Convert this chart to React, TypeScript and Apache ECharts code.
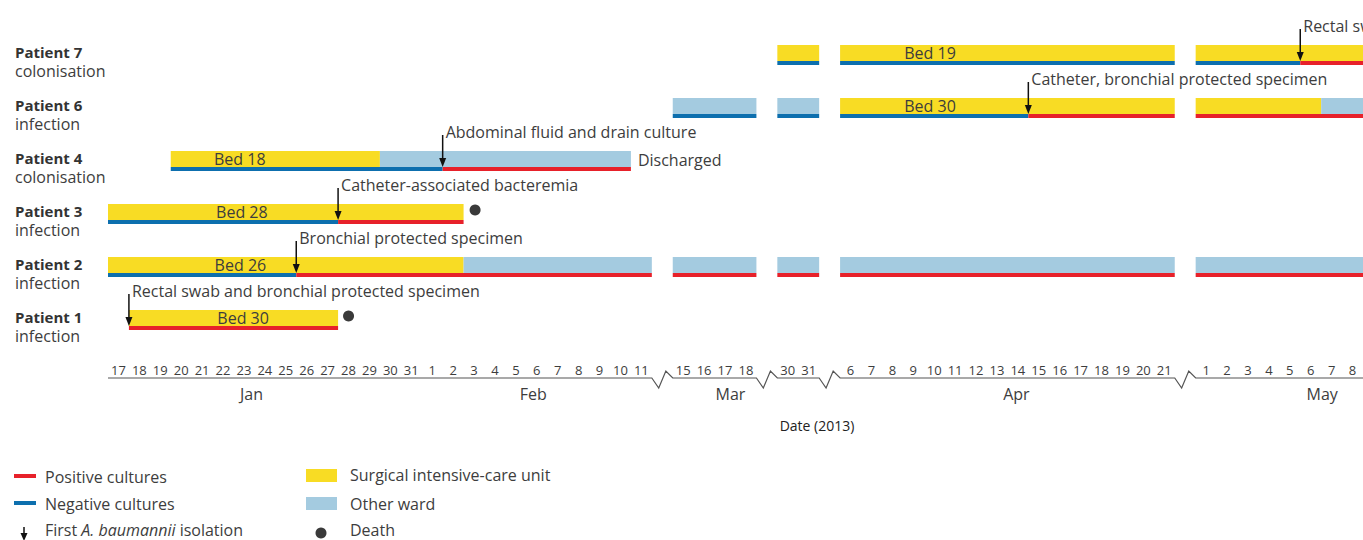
import React, { useEffect, useRef } from "react";
import * as echarts from "echarts";

// ---- data ----
const rowNames = ["Patient 1", "Patient 2", "Patient 3", "Patient 4", "Patient 6", "Patient 7"];
const rowKinds = ["infection", "infection", "infection", "colonisation", "infection", "colonisation"];

// day slots: 0 = 17 Jan ... (gaps are empty slots)
const dayLabels = [
  "17", "18", "19", "20", "21", "22", "23", "24", "25", "26", "27", "28", "29", "30", "31",
  "1", "2", "3", "4", "5", "6", "7", "8", "9", "10", "11",
  "",
  "15", "16", "17", "18",
  "",
  "30", "31",
  "",
  "6", "7", "8", "9", "10", "11", "12", "13", "14", "15", "16", "17", "18", "19", "20", "21",
  "",
  "1", "2", "3", "4", "5", "6", "7", "8",
];

// axis segments [start, end] in slots
const axisSegments: [number, number][] = [[0, 26], [27, 31], [32, 34], [35, 51], [52, 60]];

// months [slot position, label]
const monthPos = [6.86, 20.33, 29.76, 43.43, 58.05];
const monthNames = ["Jan", "Feb", "Mar", "Apr", "May"];

// ward stays: [start, end, row, ward (0 = ICU, 1 = other ward)]
const wardStays: number[][] = [
  [1, 11, 0, 0],
  [0, 17, 1, 0], [17, 26, 1, 1], [27, 31, 1, 1], [32, 34, 1, 1], [35, 51, 1, 1], [52, 60, 1, 1],
  [0, 17, 2, 0],
  [3, 13, 3, 0], [13, 25, 3, 1],
  [27, 31, 4, 1], [32, 34, 4, 1], [35, 51, 4, 0], [52, 58, 4, 0], [58, 60, 4, 1],
  [32, 34, 5, 0], [35, 51, 5, 0], [52, 60, 5, 0],
];

// cultures: [start, end, row, positive (1) / negative (0)]
const cultures: number[][] = [
  [1, 11, 0, 1],
  [0, 9, 1, 0], [9, 26, 1, 1], [27, 31, 1, 1], [32, 34, 1, 1], [35, 51, 1, 1], [52, 60, 1, 1],
  [0, 11, 2, 0], [11, 17, 2, 1],
  [3, 16, 3, 0], [16, 25, 3, 1],
  [27, 31, 4, 0], [32, 34, 4, 0], [35, 44, 4, 0], [44, 51, 4, 1], [52, 60, 4, 1],
  [32, 34, 5, 0], [35, 51, 5, 0], [52, 57, 5, 0], [57, 60, 5, 1],
];

// first isolation: [slot, row]
const isolationPos: number[][] = [[1, 0], [9, 1], [11, 2], [16, 3], [44, 4], [57, 5]];
const isolationText = [
  "Rectal swab and bronchial protected specimen",
  "Bronchial protected specimen",
  "Catheter-associated bacteremia",
  "Abdominal fluid and drain culture",
  "Catheter, bronchial protected specimen",
  "Rectal swab",
];

// deaths: [slot, row]
const deaths: number[][] = [[11.5, 0], [17.55, 2]];

// bed labels: [slot, row]
const bedPos: number[][] = [[6.46, 0], [6.33, 1], [6.4, 2], [6.3, 3], [39.3, 4], [39.3, 5]];
const bedText = ["Bed 30", "Bed 26", "Bed 28", "Bed 18", "Bed 30", "Bed 19"];

// discharged: [slot, row]
const discharged: number[][] = [[25, 3]];

// ---- styles ----
const YELLOW = "#F8DC24";
const LIGHTBLUE = "#A4CBE0";
const BLUE = "#0D6FAE";
const RED = "#E7212A";
const TEXT = "#3d3d3d";
const FONT = "Open Sans";
const FS = 16;

export default function App() {
  const ref = useRef<HTMLDivElement>(null);

  useEffect(() => {
    if (!ref.current) return;
    const chart = echarts.init(ref.current, undefined, { renderer: "svg" });

    const option: any = {
      animation: false,
      textStyle: { fontFamily: FONT, color: TEXT },
      grid: { left: 108, top: 61, width: 1265, height: 265 },
      xAxis: [
        { type: "value", min: 0, max: 60, show: false },
        {
          type: "category",
          data: dayLabels,
          position: "bottom",
          offset: 37,
          boundaryGap: true,
          axisLine: { show: false },
          axisTick: { show: false },
          splitLine: { show: false },
          axisLabel: { interval: 0, margin: 0, fontSize: 13, color: TEXT, fontFamily: FONT },
        },
      ],
      yAxis: {
        type: "value",
        min: 0,
        max: 5,
        interval: 1,
        axisLine: { show: false },
        axisTick: { show: false },
        splitLine: { show: false },
        axisLabel: {
          align: "left",
          margin: 93,
          formatter: (v: number) => `{b|${rowNames[v]}}\n{n|${rowKinds[v]}}`,
          rich: {
            b: { fontWeight: "bold", fontSize: 15, lineHeight: 19, color: "#333", fontFamily: FONT },
            n: { fontSize: FS, lineHeight: 19, color: TEXT, fontFamily: FONT },
          },
        },
      },
      series: [
        {
          type: "custom",
          name: "ward",
          data: wardStays,
          renderItem: (params: any, api: any) => {
            const p0 = api.coord([api.value(0), api.value(2)]);
            const p1 = api.coord([api.value(1), api.value(2)]);
            return {
              type: "rect",
              shape: { x: p0[0], y: p0[1] - 16, width: p1[0] - p0[0], height: 16 },
              style: { fill: api.value(3) === 0 ? YELLOW : LIGHTBLUE },
            };
          },
        },
        {
          type: "custom",
          name: "cultures",
          data: cultures,
          renderItem: (params: any, api: any) => {
            const p0 = api.coord([api.value(0), api.value(2)]);
            const p1 = api.coord([api.value(1), api.value(2)]);
            return {
              type: "rect",
              shape: { x: p0[0], y: p0[1], width: p1[0] - p0[0], height: 4 },
              style: { fill: api.value(3) === 1 ? RED : BLUE },
            };
          },
        },
        {
          type: "custom",
          name: "beds",
          data: bedPos,
          renderItem: (params: any, api: any) => {
            const p = api.coord([api.value(0), api.value(1)]);
            return {
              type: "text",
              style: {
                text: bedText[params.dataIndex],
                x: p[0],
                y: p[1] - 8,
                align: "center",
                verticalAlign: "middle",
                fontSize: FS,
                fontFamily: FONT,
                fill: TEXT,
              },
            };
          },
        },
        {
          type: "custom",
          name: "isolation",
          data: isolationPos,
          renderItem: (params: any, api: any) => {
            const p = api.coord([api.value(0), api.value(1)]);
            const x = p[0];
            const y = p[1];
            return {
              type: "group",
              children: [
                {
                  type: "line",
                  shape: { x1: x, y1: y - 32, x2: x, y2: y - 6 },
                  style: { stroke: "#111", lineWidth: 1.5 },
                },
                {
                  type: "polygon",
                  shape: { points: [[x - 3.5, y - 9], [x + 3.5, y - 9], [x, y]] },
                  style: { fill: "#111" },
                },
                {
                  type: "text",
                  style: {
                    text: isolationText[params.dataIndex],
                    x: x + 3,
                    y: y - 35,
                    align: "left",
                    verticalAlign: "middle",
                    fontSize: FS,
                    fontFamily: FONT,
                    fill: TEXT,
                  },
                },
              ],
            };
          },
        },
        {
          type: "custom",
          name: "deaths",
          data: deaths,
          renderItem: (params: any, api: any) => {
            const p = api.coord([api.value(0), api.value(1)]);
            return {
              type: "circle",
              shape: { cx: p[0], cy: p[1] - 10, r: 5.5 },
              style: { fill: "#3a3a3a" },
            };
          },
        },
        {
          type: "custom",
          name: "discharged",
          data: discharged,
          renderItem: (params: any, api: any) => {
            const p = api.coord([api.value(0), api.value(1)]);
            return {
              type: "text",
              style: {
                text: "Discharged",
                x: p[0] + 7,
                y: p[1] - 7,
                align: "left",
                verticalAlign: "middle",
                fontSize: FS,
                fontFamily: FONT,
                fill: TEXT,
              },
            };
          },
        },
        {
          type: "custom",
          name: "axisline",
          data: [[0, 0]],
          renderItem: (params: any, api: any) => {
            const base = api.coord([0, 0])[1] + 52;
            const pts: number[][] = [];
            axisSegments.forEach((seg, i) => {
              const a = api.coord([seg[0], 0])[0];
              const b = api.coord([seg[1], 0])[0];
              pts.push([a, base]);
              pts.push([b, base]);
              const next = axisSegments[i + 1];
              if (next) {
                const c = api.coord([next[0], 0])[0];
                const w = c - b;
                pts.push([b + w * 0.33, base + 10]);
                pts.push([b + w * 0.67, base - 7]);
              }
            });
            return {
              type: "polyline",
              shape: { points: pts },
              style: { stroke: "#555", lineWidth: 1.2, fill: "none" },
            };
          },
        },
        {
          type: "custom",
          name: "months",
          data: monthPos.map((m) => [m, 0]),
          renderItem: (params: any, api: any) => {
            const p = api.coord([api.value(0), 0]);
            return {
              type: "text",
              style: {
                text: monthNames[params.dataIndex],
                x: p[0],
                y: p[1] + 68,
                align: "center",
                verticalAlign: "middle",
                fontSize: FS,
                fontFamily: FONT,
                fill: TEXT,
              },
            };
          },
        },
      ],
      graphic: [
        {
          type: "text",
          x: 817,
          y: 425,
          style: { text: "Date (2013)", align: "center", verticalAlign: "middle", fontSize: 14, fontFamily: FONT, fill: "#222" },
        },
        // legend left column
        { type: "line", shape: { x1: 14, y1: 476, x2: 36, y2: 476 }, style: { stroke: RED, lineWidth: 4 } },
        {
          type: "text", x: 45, y: 477,
          style: { text: "Positive cultures", verticalAlign: "middle", fontSize: FS, fontFamily: FONT, fill: TEXT },
        },
        { type: "line", shape: { x1: 14, y1: 503, x2: 36, y2: 503 }, style: { stroke: BLUE, lineWidth: 4 } },
        {
          type: "text", x: 45, y: 504,
          style: { text: "Negative cultures", verticalAlign: "middle", fontSize: FS, fontFamily: FONT, fill: TEXT },
        },
        { type: "line", shape: { x1: 24, y1: 527, x2: 24, y2: 535 }, style: { stroke: "#111", lineWidth: 1.5 } },
        { type: "polygon", shape: { points: [[20.5, 533], [27.5, 533], [24, 541]] }, style: { fill: "#111" } },
        {
          type: "text", x: 45, y: 530,
          style: {
            text: "{n|First }{i|A. baumannii}{n| isolation}",
            verticalAlign: "middle",
            fontSize: FS,
            fontFamily: FONT,
            fill: TEXT,
            rich: {
              n: { fontSize: FS, fontFamily: FONT, fill: TEXT },
              i: { fontSize: FS, fontFamily: FONT, fill: TEXT, fontStyle: "italic" },
            },
          },
        },
        // legend right column
        { type: "rect", shape: { x: 306, y: 469, width: 31, height: 13 }, style: { fill: YELLOW } },
        {
          type: "text", x: 350, y: 475,
          style: { text: "Surgical intensive-care unit", verticalAlign: "middle", fontSize: FS, fontFamily: FONT, fill: TEXT },
        },
        { type: "rect", shape: { x: 306, y: 497, width: 31, height: 13 }, style: { fill: LIGHTBLUE } },
        {
          type: "text", x: 350, y: 504,
          style: { text: "Other ward", verticalAlign: "middle", fontSize: FS, fontFamily: FONT, fill: TEXT },
        },
        { type: "circle", shape: { cx: 321, cy: 533, r: 5.5 }, style: { fill: "#3a3a3a" } },
        {
          type: "text", x: 350, y: 530,
          style: { text: "Death", verticalAlign: "middle", fontSize: FS, fontFamily: FONT, fill: TEXT },
        },
      ],
    };

    chart.setOption(option);
    return () => chart.dispose();
  }, []);

  return (
    <div
      ref={ref}
      style={{ position: "absolute", left: 0, top: 0, width: 1363, height: 540 }}
    />
  );
}
